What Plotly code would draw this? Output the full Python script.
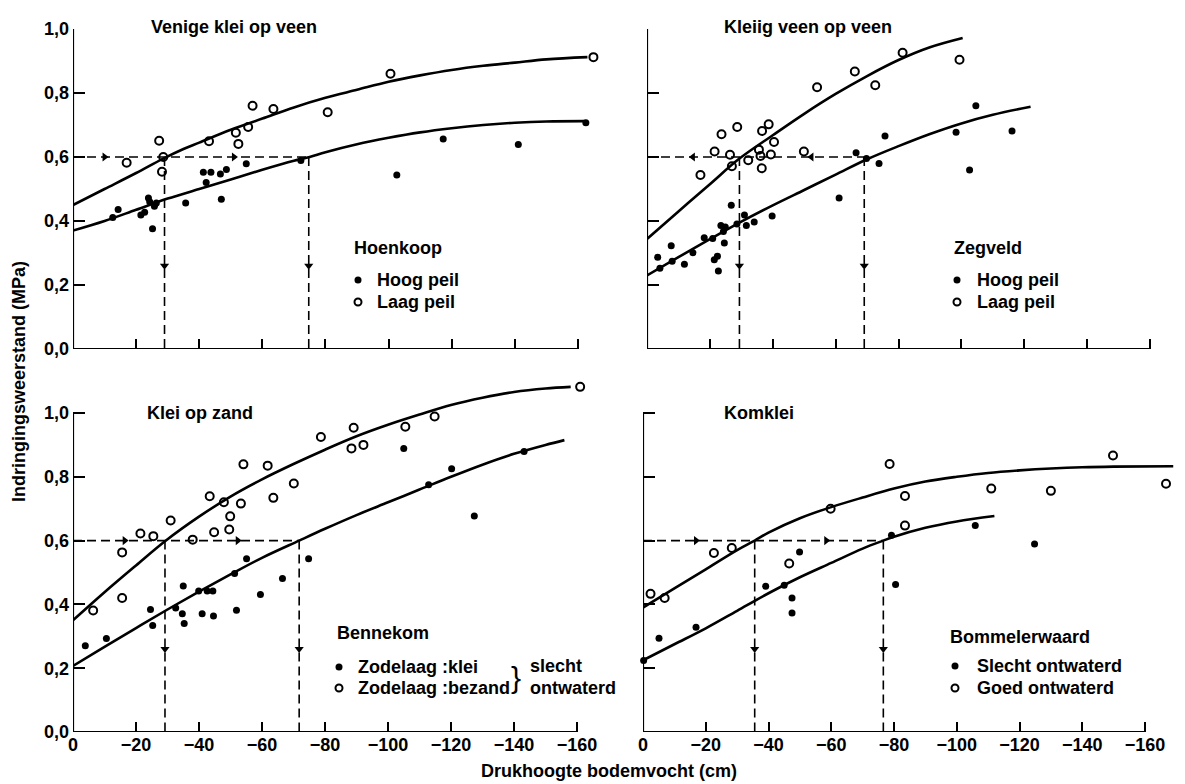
import plotly.graph_objects as go

W, H = 1185, 784          # picture size
OFF = 8                   # page body margin in front of the figure
FW, FH = W - OFF, H - OFF # figure size
FONT = "Liberation Sans"

# ---------------- data ----------------
# Top-left: Venige klei op veen (Hoenkoop)
tl_hoog_x = [-12.6, -14.3, -21.5, -22.7, -23.9, -24.3, -25.8, -26.4, -25.2, -35.7, -42.2, -41.3, -43.7,
             -46.7, -48.6, -47.0, -54.9, -72.2, -102.6, -117.3, -141.1, -162.5]
tl_hoog_y = [0.411, 0.436, 0.419, 0.427, 0.472, 0.460, 0.446, 0.456, 0.376, 0.456, 0.520, 0.552, 0.552,
             0.547, 0.561, 0.468, 0.579, 0.589, 0.544, 0.656, 0.639, 0.707]
tl_laag_x = [-17.0, -27.3, -28.6, -28.2, -43.1, -51.6, -52.4, -55.5, -56.9, -63.5, -80.7, -100.6, -164.9]
tl_laag_y = [0.582, 0.651, 0.600, 0.554, 0.649, 0.676, 0.641, 0.694, 0.760, 0.750, 0.740, 0.860, 0.912]
tl_hoog_cx = [0, -10, -20, -30, -40, -50, -60, -70, -75, -80, -90, -100, -110, -120, -130, -140, -150, -162]
tl_hoog_cy = [0.37, 0.40, 0.435, 0.47, 0.50, 0.53, 0.56, 0.588, 0.60, 0.615, 0.64, 0.66, 0.677, 0.69,
              0.70, 0.707, 0.711, 0.712]
tl_laag_cx = [0, -10, -20, -28.6, -35, -40, -50, -60, -70, -80, -90, -100, -110, -120, -130, -140, -150, -163]
tl_laag_cy = [0.45, 0.50, 0.55, 0.595, 0.625, 0.645, 0.685, 0.72, 0.755, 0.785, 0.81, 0.835, 0.855,
              0.872, 0.885, 0.895, 0.905, 0.912]
tl_cross = [-29.0, -74.7]
tl_harrows = [-10.0, -51.0]

# Top-right: Kleiig veen op veen (Zegveld)
tr_hoog_x = [-3.4, -4.1, -7.7, -8.0, -11.9, -14.6, -18.2, -20.9, -21.4, -22.4, -22.7, -23.5, -24.3, -24.6,
             -24.9, -26.8, -28.6, -31.0, -31.6, -34.1, -39.8, -61.1, -66.5, -69.8, -73.8, -75.7, -98.3,
             -102.6, -104.6, -116.1]
tr_hoog_y = [0.287, 0.252, 0.323, 0.274, 0.265, 0.301, 0.348, 0.345, 0.279, 0.290, 0.244, 0.386, 0.367,
             0.331, 0.381, 0.449, 0.391, 0.419, 0.386, 0.397, 0.416, 0.472, 0.613, 0.595, 0.580, 0.666,
             0.677, 0.559, 0.760, 0.681]
tr_laag_x = [-17.0, -21.5, -23.7, -26.4, -27.0, -28.7, -32.2, -35.6, -36.1, -36.5, -36.6, -38.7, -39.4,
             -40.4, -49.9, -54.1, -66.1, -72.6, -81.3, -99.4]
tr_laag_y = [0.544, 0.617, 0.671, 0.607, 0.571, 0.694, 0.590, 0.623, 0.603, 0.565, 0.681, 0.702, 0.608,
             0.647, 0.617, 0.818, 0.867, 0.824, 0.926, 0.904]
tr_hoog_cx = [0, -10, -20, -30, -40, -50, -60, -70, -80, -90, -100, -110, -122]
tr_hoog_cy = [0.23, 0.287, 0.343, 0.398, 0.449, 0.497, 0.545, 0.593, 0.634, 0.672, 0.705, 0.732, 0.757]
tr_laag_cx = [0, -10, -20, -29.4, -40, -50, -60, -70, -80, -90, -100.4]
tr_laag_cy = [0.344, 0.43, 0.515, 0.595, 0.668, 0.735, 0.797, 0.853, 0.903, 0.943, 0.972]
tr_cross = [-29.4, -69.1]
tr_harrows = [-14.6, -52.3]

# Bottom-left: Klei op zand (Bennekom)
bl_klei_x = [-3.9, -10.6, -24.6, -25.3, -32.6, -34.7, -35.0, -35.3, -39.9, -41.0, -42.6, -44.4, -44.6,
             -51.3, -51.9, -55.1, -59.5, -66.5, -74.8, -105.0, -112.9, -120.2, -127.4, -143.2]
bl_klei_y = [0.270, 0.293, 0.384, 0.334, 0.389, 0.371, 0.458, 0.340, 0.442, 0.371, 0.442, 0.442, 0.364,
             0.497, 0.382, 0.543, 0.431, 0.481, 0.543, 0.889, 0.775, 0.825, 0.677, 0.879]
bl_zand_x = [-6.4, -15.6, -15.6, -21.4, -25.5, -31.0, -38.0, -43.4, -44.8, -47.9, -49.9, -49.6, -53.3,
             -54.1, -61.8, -63.6, -70.1, -78.7, -89.1, -88.4, -92.2, -105.5, -114.8, -161.0]
bl_zand_y = [0.381, 0.563, 0.420, 0.622, 0.614, 0.663, 0.603, 0.739, 0.626, 0.720, 0.676, 0.635, 0.716,
             0.839, 0.835, 0.734, 0.779, 0.925, 0.954, 0.889, 0.900, 0.957, 0.989, 1.082]
bl_klei_cx = [0, -10, -20, -30, -40, -50, -60, -71.8, -80, -90, -100, -110, -120, -130, -140, -150, -156]
bl_klei_cy = [0.207, 0.267, 0.326, 0.384, 0.44, 0.494, 0.546, 0.60, 0.637, 0.68, 0.72, 0.76, 0.80, 0.838,
              0.872, 0.90, 0.915]
bl_zand_cx = [0, -10, -20, -29.2, -40, -50, -60, -70, -80, -90, -100, -110, -120, -130, -140, -150, -158]
bl_zand_cy = [0.35, 0.438, 0.522, 0.598, 0.675, 0.738, 0.792, 0.84, 0.885, 0.927, 0.963, 0.995, 1.025,
              1.048, 1.066, 1.077, 1.082]
bl_cross = [-29.2, -71.8]
bl_harrows = [-16.4, -52.3]

# Bottom-right: Komklei (Bommelerwaard)
br_slecht_x = [-0.2, -5.1, -16.9, -39.1, -45.0, -47.5, -47.5, -49.9, -79.2, -80.5, -105.9, -124.8]
br_slecht_y = [0.224, 0.294, 0.328, 0.457, 0.460, 0.420, 0.373, 0.564, 0.617, 0.462, 0.647, 0.589]
br_goed_x = [-2.4, -6.9, -22.6, -28.3, -46.6, -59.8, -78.6, -83.5, -83.5, -111.0, -130.0, -149.8, -166.7,
             -171.5]
br_goed_y = [0.433, 0.420, 0.561, 0.577, 0.528, 0.700, 0.840, 0.740, 0.647, 0.763, 0.756, 0.867, 0.778,
             0.833]
br_slecht_cx = [0, -10, -20, -30, -40, -50, -60, -70, -76.6, -80, -90, -100, -112]
br_slecht_cy = [0.225, 0.275, 0.325, 0.38, 0.435, 0.485, 0.53, 0.575, 0.60, 0.612, 0.64, 0.66, 0.677]
br_goed_cx = [0, -10, -20, -30, -35.6, -40, -50, -60, -70, -80, -90, -100, -110, -120, -130, -140, -150, -169]
br_goed_cy = [0.39, 0.45, 0.51, 0.57, 0.60, 0.625, 0.67, 0.705, 0.735, 0.763, 0.785, 0.80, 0.812, 0.82,
              0.826, 0.83, 0.832, 0.833]
br_cross = [-35.6, -76.6]
br_harrows = [-16.9, -58.4]

guide_level = 0.6
x_ticks = [0, -20, -40, -60, -80, -100, -120, -140, -160]
x_ticktext = ["0", "\u221220", "\u221240", "\u221260", "\u221280", "\u2212100", "\u2212120", "\u2212140", "\u2212160"]
y_ticks = [0, 0.2, 0.4, 0.6, 0.8, 1.0]
y_ticktext = ["0,0", "0,2", "0,4", "0,6", "0,8", "1,0"]

titles = ["Venige klei op veen", "Kleiig veen op veen", "Klei op zand", "Komklei"]
locations = ["Hoenkoop", "Zegveld", "Bennekom", "Bommelerwaard"]
labels = [["Hoog peil", "Laag peil"], ["Hoog peil", "Laag peil"],
          ["Zodelaag :klei", "Zodelaag :bezand"], ["Slecht ontwaterd", "Goed ontwaterd"]]

# ---------------- layout (pixels in the picture) ----------------
panels = [
    dict(x0=73, sx=3.156, y0=349, sy=320, ytop=1.0),
    dict(x0=647, sx=3.144, y0=349, sy=320, ytop=1.0),
    dict(x0=73, sx=3.150, y0=732, sy=319, ytop=1.1),
    dict(x0=643, sx=3.1375, y0=732, sy=319, ytop=1.1),
]
XMAX = 170


def pxx(x):
    return (x - OFF) / FW


def pxy(y):
    return 1 - (y - OFF) / FH


data_sets = [
    (tl_hoog_x, tl_hoog_y, tl_laag_x, tl_laag_y, tl_hoog_cx, tl_hoog_cy, tl_laag_cx, tl_laag_cy, tl_cross, tl_harrows, "right"),
    (tr_hoog_x, tr_hoog_y, tr_laag_x, tr_laag_y, tr_hoog_cx, tr_hoog_cy, tr_laag_cx, tr_laag_cy, tr_cross, tr_harrows, "left"),
    (bl_klei_x, bl_klei_y, bl_zand_x, bl_zand_y, bl_klei_cx, bl_klei_cy, bl_zand_cx, bl_zand_cy, bl_cross, bl_harrows, "right"),
    (br_slecht_x, br_slecht_y, br_goed_x, br_goed_y, br_slecht_cx, br_slecht_cy, br_goed_cx, br_goed_cy, br_cross, br_harrows, "right"),
]

fig = go.Figure()
layout = dict(template="none", width=FW, height=FH, margin=dict(l=0, r=0, t=0, b=0, pad=0),
              paper_bgcolor="white", plot_bgcolor="rgba(0,0,0,0)", showlegend=False)
shapes = []
annotations = []
tickfont = dict(family=FONT, size=18, color="black", weight="bold")

for i, (p, ds) in enumerate(zip(panels, data_sets)):
    n = i + 1
    xa = "x" if n == 1 else f"x{n}"
    ya = "y" if n == 1 else f"y{n}"
    xkey = "xaxis" if n == 1 else f"xaxis{n}"
    ykey = "yaxis" if n == 1 else f"yaxis{n}"
    xd = [pxx(p["x0"]), pxx(p["x0"] + XMAX * p["sx"])]
    yd = [pxy(p["y0"]), pxy(p["y0"] - p["ytop"] * p["sy"])]
    bottom = i >= 2
    left = i % 2 == 0
    layout[xkey] = dict(domain=xd, range=[0, -XMAX], anchor=ya, showline=False, showgrid=False,
                        zeroline=False, ticks="inside", ticklen=10, tickwidth=2, tickcolor="black",
                        tickvals=x_ticks, ticktext=x_ticktext, showticklabels=bottom, tickfont=tickfont,
                        automargin=False)
    layout[ykey] = dict(domain=yd, range=[0, p["ytop"]], anchor=xa, showline=False, showgrid=False,
                        zeroline=False, ticks="inside", ticklen=12, tickwidth=2, tickcolor="black",
                        tickvals=y_ticks, ticktext=y_ticktext, showticklabels=left, tickfont=tickfont,
                        automargin=False, ticklabelstandoff=3)
    shapes.append(dict(type="line", xref=xa, yref=ya, x0=0, x1=-160, y0=0, y1=0,
                       line=dict(color="black", width=2.2)))
    shapes.append(dict(type="line", xref=xa, yref=ya, x0=0, x1=0, y0=0, y1=1.0,
                       line=dict(color="black", width=2.2)))

    fx, fy, ox, oy, fcx, fcy, ocx, ocy, cross, harrows, hdir = ds
    fig.add_trace(go.Scatter(x=[0, min(cross)], y=[guide_level, guide_level], mode="lines",
                             line=dict(color="black", width=1.6, dash="9px,5px"), xaxis=xa, yaxis=ya,
                             hoverinfo="skip"))
    for c in cross:
        fig.add_trace(go.Scatter(x=[c, c], y=[guide_level, 0], mode="lines",
                                 line=dict(color="black", width=1.6, dash="9px,5px"), xaxis=xa, yaxis=ya,
                                 hoverinfo="skip"))
    fig.add_trace(go.Scatter(x=harrows, y=[guide_level] * len(harrows), mode="markers",
                             marker=dict(symbol="triangle-" + hdir, size=8, color="black"),
                             xaxis=xa, yaxis=ya, hoverinfo="skip", cliponaxis=False))
    fig.add_trace(go.Scatter(x=cross, y=[0.26] * len(cross), mode="markers",
                             marker=dict(symbol="triangle-down", size=8, color="black"),
                             xaxis=xa, yaxis=ya, hoverinfo="skip", cliponaxis=False))
    for cx, cy in ((fcx, fcy), (ocx, ocy)):
        fig.add_trace(go.Scatter(x=cx, y=cy, mode="lines", line=dict(color="black", width=2.6, shape="spline"),
                                 xaxis=xa, yaxis=ya, hoverinfo="skip"))
    fig.add_trace(go.Scatter(x=fx, y=fy, mode="markers", marker=dict(symbol="circle", size=7, color="black"),
                             xaxis=xa, yaxis=ya, cliponaxis=False))
    fig.add_trace(go.Scatter(x=ox, y=oy, mode="markers",
                             marker=dict(symbol="circle-open", size=8, color="black", line=dict(width=2)),
                             xaxis=xa, yaxis=ya, cliponaxis=False))

# overlay axis in picture-pixel space for legend keys
layout["xaxis5"] = dict(domain=[0, 1], range=[OFF, W], visible=False, anchor="y5", fixedrange=True,
                        automargin=False)
layout["yaxis5"] = dict(domain=[0, 1], range=[H, OFF], visible=False, anchor="x5", fixedrange=True,
                        automargin=False)

title_pos = [(149, 27), (722, 27), (145, 413), (722, 413)]
legend_pos = [(352, 248, 358, 280, 302, 375), (952, 248, 957, 280, 302, 975),
              (335, 633, 339, 667, 688, 356), (948, 637, 955, 666, 688, 975)]


def txt(x, y, s, size=18, bold=True, xanchor="left"):
    return dict(x=pxx(x), y=pxy(y), xref="paper", yref="paper", text=s, showarrow=False,
                xanchor=xanchor, yanchor="middle",
                font=dict(family=FONT, size=size, color="black", weight="bold" if bold else "normal"))


for i in range(4):
    tx, ty = title_pos[i]
    annotations.append(txt(tx, ty, titles[i]))
    hx, hy, kx, ky1, ky2, lx = legend_pos[i]
    annotations.append(txt(hx, hy, locations[i]))
    annotations.append(txt(lx, ky1, labels[i][0]))
    annotations.append(txt(lx, ky2, labels[i][1]))
    fig.add_trace(go.Scatter(x=[kx], y=[ky1], mode="markers", marker=dict(symbol="circle", size=7, color="black"),
                             xaxis="x5", yaxis="y5", hoverinfo="skip"))
    fig.add_trace(go.Scatter(x=[kx], y=[ky2], mode="markers",
                             marker=dict(symbol="circle-open", size=7, color="black", line=dict(width=2)),
                             xaxis="x5", yaxis="y5", hoverinfo="skip"))

annotations.append(txt(509, 677, "}", size=30, bold=False))
annotations.append(txt(528, 666, "slecht"))
annotations.append(txt(528, 688, "ontwaterd"))

annotations.append(dict(x=pxx(19), y=pxy(382), xref="paper", yref="paper", text="Indringingsweerstand (MPa)",
                        showarrow=False, textangle=-90, xanchor="center", yanchor="middle",
                        font=dict(family=FONT, size=18, color="black", weight="bold")))
annotations.append(txt(609, 771, "Drukhoogte bodemvocht (cm)", size=18, xanchor="center"))

layout["shapes"] = shapes
layout["annotations"] = annotations
fig.update_layout(**layout)
fig.write_html("out.html")
